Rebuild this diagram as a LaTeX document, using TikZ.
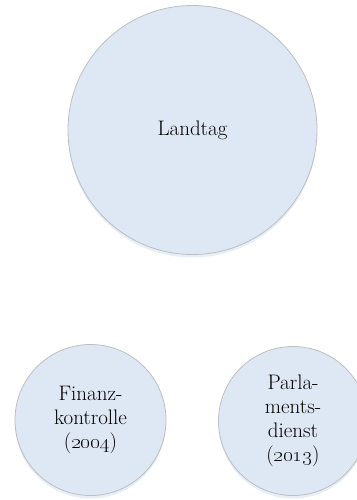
\documentclass[tikz,border=0pt]{standalone}
\usetikzlibrary{shadows}
\definecolor{cfill}{RGB}{222,232,245}
\definecolor{cline}{RGB}{190,190,190}
\definecolor{cshadow}{RGB}{205,222,240}
\begin{document}
\begin{tikzpicture}[x=1pt,y=-1pt,
  org/.style={circle,draw=cline,line width=0.8pt,fill=cfill,inner sep=0pt,
    align=center,font=\fontsize{21}{24}\selectfont,
    drop shadow={shadow xshift=0pt,shadow yshift=-3pt,fill=cshadow,opacity=0.5}}]
\useasboundingbox (0,0) rectangle (356,500);
\node[org,minimum size=249pt] (landtag) at (192.5,130) {Landtag};
\node[org,minimum size=151pt] (fk) at (90.5,420) {Finanz-\\kontrolle\\(\oldstylenums{2004})};
\node[org,minimum size=149pt] (pd) at (293,421) {Parla-\\ments-\\dienst\\(\oldstylenums{2013})};
\end{tikzpicture}
\end{document}
